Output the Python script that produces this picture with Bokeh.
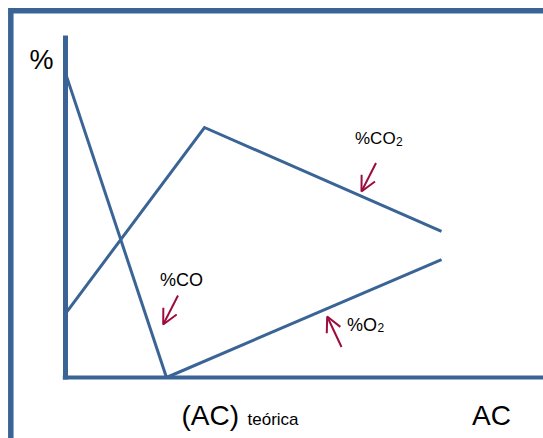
from bokeh.plotting import figure
from bokeh.models import Range1d, Arrow, OpenHead
from bokeh.core.properties import value
from bokeh.embed import file_html
from bokeh.resources import INLINE

# ---- data (x: air/fuel in units of theoretical AC, y: %) ----
co_x = [0.0, 1.0]
co_y = [89.0, 0.0]
co2_x = [0.0, 1.376, 3.723]
co2_y = [18.7, 73.1, 42.7]
o2_x = [1.0, 3.723]
o2_y = [0.0, 34.5]
y_axis_top = 100.0

# ---- layout helpers (canvas pixels -> data) ----
W, H = 543, 438
PX_X0, PX_PER_X = 65.0, 101.0
PX_Y0, PX_PER_Y = 377.0, 3.42


def X(px):
    return (px - PX_X0) / PX_PER_X


def Y(py):
    return (PX_Y0 - py) / PX_PER_Y


BLUE = "#3A6496"
RED = "#9C0C3E"
FONT = value("Liberation Sans")

p = figure(width=W, height=H, output_backend="svg", toolbar_location=None,
           x_range=Range1d(X(0), X(W)), y_range=Range1d(Y(H), Y(0)),
           min_border=0, x_axis_type=None, y_axis_type=None)
p.outline_line_color = None
p.grid.visible = False
p.background_fill_color = "white"
p.border_fill_color = "white"

# outer frame (top and left edges visible)
p.line([X(10.3), X(10.3), X(W)], [Y(H), Y(10.3), Y(10.3)],
       line_color=BLUE, line_width=5.5, line_join="miter")

# axes
p.line([0, 0], [Y(PX_Y0 + 2), y_axis_top], line_color=BLUE, line_width=5)
p.line([X(62.3), X(W)], [0, 0], line_color=BLUE, line_width=4)

# series
p.line(co_x, co_y, line_color=BLUE, line_width=3)
p.line(co2_x, co2_y, line_color=BLUE, line_width=3, line_join="miter")
p.line(o2_x, o2_y, line_color=BLUE, line_width=3)

# arrows
arrows = [((375.5, 162.5), (361, 191)),
          ((177.5, 295), (162.7, 324)),
          ((341, 346.5), (326.7, 316))]
for (x0, y0), (x1, y1) in arrows:
    p.add_layout(Arrow(end=OpenHead(size=15, line_color=RED, line_width=2),
                       x_start=X(x0), y_start=Y(y0), x_end=X(x1), y_end=Y(y1),
                       line_color=RED, line_width=2))

# texts
def txt(px, py, s, size):
    p.text(x=[X(px)], y=[Y(py)], text=[s], text_font=FONT,
           text_font_size=size, text_baseline="alphabetic",
           text_align="left", text_color="black")


txt(29, 59.5, "%", "27px")
txt(354.5, 138, "%CO", "17px")
txt(395.5, 140.5, "2", "12px")
txt(159.5, 279, "%CO", "18px")
txt(346.5, 324, "%O", "18px")
txt(377, 327, "2", "12px")
txt(181, 415, "(AC)", "28px")
txt(247, 418.5, "teórica", "17px")
txt(471.5, 415, "AC", "28px")

open("out.html", "w").write(file_html(p, INLINE))
